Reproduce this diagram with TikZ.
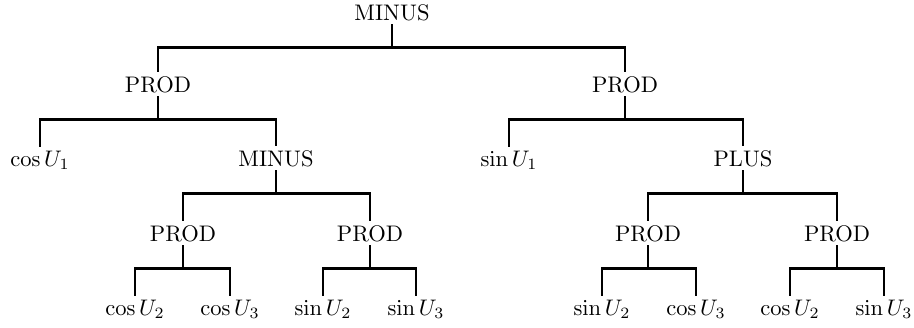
\documentclass[tikz,border=0pt]{standalone}
\usepackage{tikz}

\begin{document}
\begin{tikzpicture}[x=0.444pt, y=-0.444pt,
    op/.style={anchor=base, inner sep=1.5pt},
    fork/.style={line width=1.3pt}]
    \useasboundingbox (0,0) rectangle (914,327);

    % Root and first products
    \node[op] (root) at (392,20) {MINUS};
    \node[op] (pl) at (158,92) {PROD};
    \node[op] (pr) at (625,92) {PROD};

    % Third level
    \node[op] (cu1) at (40,166) {$\cos U_1$};
    \node[op] (ml) at (276,166) {MINUS};
    \node[op] (su1) at (509,166) {$\sin U_1$};
    \node[op] (pp) at (743,166) {PLUS};

    % Inner products
    \node[op] (pa) at (183,241) {PROD};
    \node[op] (pb) at (370,241) {PROD};
    \node[op] (pc) at (648,241) {PROD};
    \node[op] (pd) at (837,241) {PROD};

    % Leaves
    \node[op] (la) at (135,315) {$\cos U_2$};
    \node[op] (lb) at (230,315) {$\cos U_3$};
    \node[op] (lc) at (323,315) {$\sin U_2$};
    \node[op] (ld) at (416,315) {$\sin U_3$};
    \node[op] (le) at (602,315) {$\sin U_2$};
    \node[op] (lf) at (696,315) {$\cos U_3$};
    \node[op] (lg) at (790,315) {$\cos U_2$};
    \node[op] (lh) at (884,315) {$\sin U_3$};

    % Square edges from parent to child
    \foreach \p/\c in {root/pl, root/pr, pl/cu1, pl/ml, pr/su1, pr/pp,
                       ml/pa, ml/pb, pp/pc, pp/pd,
                       pa/la, pa/lb, pb/lc, pb/ld, pc/le, pc/lf, pd/lg, pd/lh} {
      \draw[fork] (\p.south) -- ++(0,23) -| (\c.north);
    }
\end{tikzpicture}
\end{document}
